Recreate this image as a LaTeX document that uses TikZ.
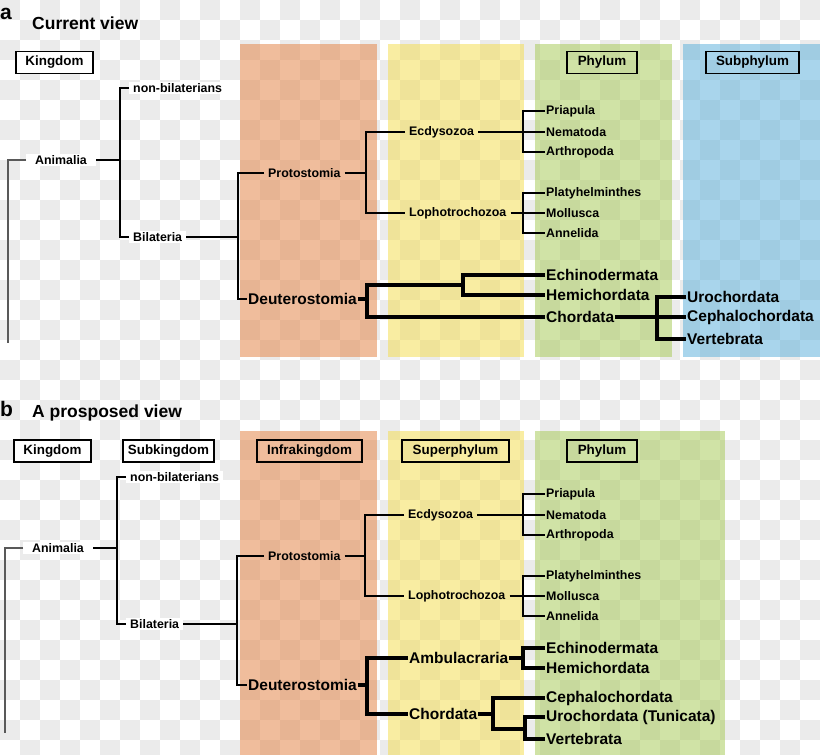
\documentclass[tikz,border=0pt]{standalone}
\usepackage{fontspec}
\setmainfont{Liberation Sans}
\usetikzlibrary{positioning}
\definecolor{infraColor}{RGB}{228,135,75}
\definecolor{superColor}{RGB}{244,222,86}
\definecolor{phylumColor}{RGB}{170,204,93}
\definecolor{subphylumColor}{RGB}{99,179,220}

\begin{document}
\begin{tikzpicture}[x=1pt, y=-1pt,
    every node/.style={font=\bfseries\fontsize{12.4}{14}\selectfont, inner xsep=4pt, inner ysep=1pt, anchor=west},
    leaf/.style={inner xsep=1pt},
    bigtaxon/.style={font=\bfseries\fontsize{15.5}{17}\selectfont, inner xsep=1pt},
    rankbox/.style={draw, line width=1.8pt, anchor=center, minimum height=22pt, inner xsep=0pt, font=\bfseries\fontsize{13.4}{15}\selectfont},
    whitebg/.style={fill=white},
    panel/.style={fill opacity=0.55},
    branch/.style={line width=1.2pt},
    thickbranch/.style={line width=3.6pt},
    heading/.style={font=\bfseries\fontsize{17.5}{20}\selectfont, inner sep=0pt},
    panellabel/.style={font=\bfseries\fontsize{21}{24}\selectfont, inner sep=0pt}
  ]
    \useasboundingbox (0,0) rectangle (820,755);

    % Checkered background
    \foreach \j in {0,...,37}{
      \pgfmathtruncatemacro{\rowoff}{mod(\j,2)}
      \foreach \i in {0,2,...,40}
        \fill[black!8] ({(\i+\rowoff)*20},{\j*20}) rectangle ++(20,20);
    }

    % Coloured rank panels (a)
    \fill[infraColor, panel] (240,44) rectangle (377,357);
    \fill[superColor, panel] (388,44) rectangle (524,357);
    \fill[phylumColor, panel] (535,44) rectangle (672,357);
    \fill[subphylumColor, panel] (683,44) rectangle (820,357);

    % Coloured rank panels (b)
    \fill[infraColor, panel] (240,431) rectangle (377,755);
    \fill[superColor, panel] (388,431) rectangle (524,755);
    \fill[phylumColor, panel] (535,431) rectangle (725,755);

    % ---------------- a: Current view ----------------
    \node[panellabel] (labA) at (0,14) {a};
    \node[heading] (titleA) at (32,23) {Current view};

    \node[rankbox, fill=white, minimum width=77pt] (kingA) at (54.5,62.5) {Kingdom};
    \node[rankbox, minimum width=70pt] (phylA) at (602,62.5) {Phylum};
    \node[rankbox, minimum width=93pt] (subphA) at (752.5,62.5) {Subphylum};

    \node[whitebg] (nonbilA) at (129,88) {non-bilaterians};
    \node[whitebg, inner xsep=9pt] (animA) at (26,160) {Animalia};
    \node[whitebg] (bilA) at (129,237) {Bilateria};
    \node (protA) at (264,173) {Protostomia};
    \node (ecdA) at (405,132) {Ecdysozoa};
    \node (lophA) at (405,213) {Lophotrochozoa};
    \node[leaf] (priA) at (545,111) {Priapula};
    \node[leaf] (nemA) at (545,132) {Nematoda};
    \node[leaf] (artA) at (545,152) {Arthropoda};
    \node[leaf] (platA) at (545,193) {Platyhelminthes};
    \node[leaf] (molA) at (545,213) {Mollusca};
    \node[leaf] (annA) at (545,233) {Annelida};
    \node[bigtaxon] (deutA) at (247,299) {Deuterostomia};
    \node[bigtaxon] (echA) at (545,275) {Echinodermata};
    \node[bigtaxon] (hemiA) at (545,295) {Hemichordata};
    \node[bigtaxon] (chorA) at (545,317) {Chordata};
    \node[bigtaxon] (uroA) at (686,297) {Urochordata};
    \node[bigtaxon] (cephA) at (686,317) {Cephalochordata};
    \node[bigtaxon] (vertA) at (686,339) {Vertebrata};

    % junctions (a)
    \coordinate (rootA) at (8,343);
    \coordinate (jA1) at (120,160);
    \coordinate (jA2) at (238,237);
    \coordinate (jA3) at (366,173);
    \coordinate (jA4) at (523,132);
    \coordinate (jA5) at (523,213);
    \coordinate (jA6) at (367,299);
    \coordinate (jA7) at (463,285);
    \coordinate (jA8) at (657,317);

    % thin branches (a)
    \draw[branch, black!65] (animA.west) -| (rootA);
    \draw[branch] (animA.east) -- (jA1);
    \draw[branch] (nonbilA.west) -| (jA1) |- (bilA.west);
    \draw[branch] (bilA.east) -- (jA2);
    \draw[branch] (protA.west) -| (jA2) |- (deutA.west);
    \draw[branch] (protA.east) -- (jA3);
    \draw[branch] (ecdA.west) -| (jA3) |- (lophA.west);
    \draw[branch] (ecdA.east) -- (jA4);
    \draw[branch] (priA.west) -| (jA4) |- (artA.west);
    \draw[branch] (jA4) -- (nemA.west);
    \draw[branch] (lophA.east) -- (jA5);
    \draw[branch] (platA.west) -| (jA5) |- (annA.west);
    \draw[branch] (jA5) -- (molA.west);

    % thick branches (a)
    \draw[thickbranch] (deutA.east) -- (jA6);
    \draw[thickbranch] (jA7) -| (jA6) |- (chorA.west);
    \draw[thickbranch] (echA.west) -| (jA7) |- (hemiA.west);
    \draw[thickbranch] (chorA.east) -- (jA8);
    \draw[thickbranch] (uroA.west) -| (jA8) |- (vertA.west);
    \draw[thickbranch] (jA8) -- (cephA.west);

    % ---------------- b: A proposed view ----------------
    \node[panellabel] (labB) at (0,409) {b};
    \node[heading] (titleB) at (32,413) {A prosposed view};

    \node[rankbox, fill=white, minimum width=77pt] (kingB) at (52.5,451) {Kingdom};
    \node[rankbox, fill=white, minimum width=91pt] (subkB) at (168.5,451) {Subkingdom};
    \node[rankbox, minimum width=105pt] (infraB) at (309.5,451) {Infrakingdom};
    \node[rankbox, minimum width=107pt] (superB) at (455.5,451) {Superphylum};
    \node[rankbox, minimum width=70pt] (phylB) at (602,451) {Phylum};

    \node[whitebg] (nonbilB) at (126,477) {non-bilaterians};
    \node[whitebg, inner xsep=9pt] (animB) at (23,548) {Animalia};
    \node[whitebg] (bilB) at (126,624) {Bilateria};
    \node (protB) at (264,556) {Protostomia};
    \node (ecdB) at (404,515) {Ecdysozoa};
    \node (lophB) at (404,596) {Lophotrochozoa};
    \node[leaf] (priB) at (545,494) {Priapula};
    \node[leaf] (nemB) at (545,515) {Nematoda};
    \node[leaf] (artB) at (545,535) {Arthropoda};
    \node[leaf] (platB) at (545,576) {Platyhelminthes};
    \node[leaf] (molB) at (545,596) {Mollusca};
    \node[leaf] (annB) at (545,616) {Annelida};
    \node[bigtaxon] (deutB) at (247,685) {Deuterostomia};
    \node[bigtaxon] (ambB) at (408,658) {Ambulacraria};
    \node[bigtaxon] (chorB) at (408,714) {Chordata};
    \node[bigtaxon] (echB) at (545,648) {Echinodermata};
    \node[bigtaxon] (hemiB) at (545,668) {Hemichordata};
    \node[bigtaxon] (cephB) at (545,698) {Cephalochordata};
    \node[bigtaxon] (uroB) at (545,717) {Urochordata (Tunicata)};
    \node[bigtaxon] (vertB) at (545,739) {Vertebrata};

    % junctions (b)
    \coordinate (rootB) at (5,733);
    \coordinate (jB1) at (117,548);
    \coordinate (jB2) at (237,624);
    \coordinate (jB3) at (365,556);
    \coordinate (jB4) at (523,515);
    \coordinate (jB5) at (523,596);
    \coordinate (jB6) at (367,685);
    \coordinate (jB7) at (523,658);
    \coordinate (jB8) at (493,714);
    \coordinate (jB9) at (525,729);

    % thin branches (b)
    \draw[branch, black!65] (animB.west) -| (rootB);
    \draw[branch] (animB.east) -- (jB1);
    \draw[branch] (nonbilB.west) -| (jB1) |- (bilB.west);
    \draw[branch] (bilB.east) -- (jB2);
    \draw[branch] (protB.west) -| (jB2) |- (deutB.west);
    \draw[branch] (protB.east) -- (jB3);
    \draw[branch] (ecdB.west) -| (jB3) |- (lophB.west);
    \draw[branch] (ecdB.east) -- (jB4);
    \draw[branch] (priB.west) -| (jB4) |- (artB.west);
    \draw[branch] (jB4) -- (nemB.west);
    \draw[branch] (lophB.east) -- (jB5);
    \draw[branch] (platB.west) -| (jB5) |- (annB.west);
    \draw[branch] (jB5) -- (molB.west);

    % thick branches (b)
    \draw[thickbranch] (deutB.east) -- (jB6);
    \draw[thickbranch] (ambB.west) -| (jB6) |- (chorB.west);
    \draw[thickbranch] (ambB.east) -- (jB7);
    \draw[thickbranch] (echB.west) -| (jB7) |- (hemiB.west);
    \draw[thickbranch] (chorB.east) -- (jB8);
    \draw[thickbranch] (cephB.west) -| (jB8) |- (jB9);
    \draw[thickbranch] (uroB.west) -| (jB9) |- (vertB.west);

\end{tikzpicture}
\end{document}
